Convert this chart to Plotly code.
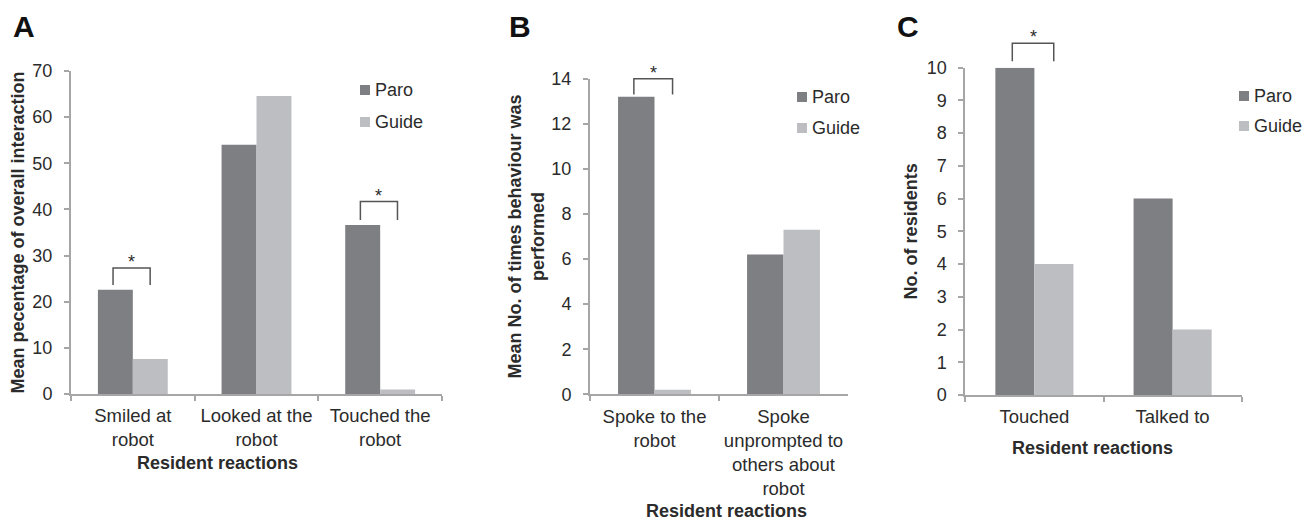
import plotly.graph_objects as go

# ---------------- data ----------------
series_names = ["Paro", "Guide"]

a_categories = ["Smiled at<br>robot", "Looked at the<br>robot", "Touched the<br>robot"]
a_paro = [22.6, 54.0, 36.6]
a_guide = [7.6, 64.6, 1.0]
a_yticks = [0, 10, 20, 30, 40, 50, 60, 70]

b_categories = ["Spoke to the<br>robot", "Spoke<br>unprompted to<br>others about<br>robot"]
b_paro = [13.2, 6.2]
b_guide = [0.2, 7.3]
b_yticks = [0, 2, 4, 6, 8, 10, 12, 14]

c_categories = ["Touched", "Talked to"]
c_paro = [10, 6]
c_guide = [4, 2]
c_yticks = [0, 1, 2, 3, 4, 5, 6, 7, 8, 9, 10]

# significance brackets: (category index, leg bottom value, bracket top value)
a_sig = [(0, 23.6, 27.3), (2, 37.7, 41.7)]
b_sig = [(0, 13.3, 14.0)]
c_sig = [(0, 10.2, 10.75)]

# ---------------- style ----------------
W, H = 1305, 521
PARO_C = "#7e7f83"
GUIDE_C = "#bdbec2"
AXIS_C = "#a6a6a6"
TEXT_C = "#2b2b2b"
FONT = "Arial, 'Liberation Sans', Helvetica, sans-serif"


def px_x(p):
    return p / W


def px_y(p):
    return 1 - p / H


fig = go.Figure()

panels = [
    dict(cats=a_categories, paro=a_paro, guide=a_guide, ticks=a_yticks, rng=[0, 70],
         xdom=[71, 442], ydom=[394, 71], n="",
         ytitle="Mean pecentage of overall interaction", standoff=3, sig=a_sig),
    dict(cats=b_categories, paro=b_paro, guide=b_guide, ticks=b_yticks, rng=[0, 14],
         xdom=[590, 848], ydom=[394.3, 78.7], n="2",
         ytitle="Mean No. of times behaviour was<br>performed", standoff=2, sig=b_sig),
    dict(cats=c_categories, paro=c_paro, guide=c_guide, ticks=c_yticks, rng=[0, 10],
         xdom=[965.3, 1241.7], ydom=[395, 67.7], n="3",
         ytitle="No. of residents", standoff=4, sig=c_sig),
]

layout_axes = {}
annotations = []
shapes = []

for p in panels:
    xa = "x" + p["n"]
    ya = "y" + p["n"]
    ydom = [px_y(p["ydom"][0]), px_y(p["ydom"][1])]
    fig.add_trace(go.Bar(x=p["cats"], y=p["paro"], name=series_names[0],
                         marker=dict(color=PARO_C, line=dict(width=0)),
                         xaxis=xa, yaxis=ya, showlegend=False))
    fig.add_trace(go.Bar(x=p["cats"], y=p["guide"], name=series_names[1],
                         marker=dict(color=GUIDE_C, line=dict(width=0)),
                         xaxis=xa, yaxis=ya, showlegend=False))
    layout_axes["xaxis" + p["n"]] = dict(
        domain=[px_x(p["xdom"][0]), px_x(p["xdom"][1])],
        anchor=ya, type="category", automargin=False, tickangle=0,
        showline=True, linecolor=AXIS_C, linewidth=2,
        ticks="outside", tickson="boundaries", ticklen=5, tickcolor=AXIS_C, tickwidth=2,
        tickfont=dict(family=FONT, size=18.5, color=TEXT_C),
        showgrid=False, zeroline=False, ticklabelstandoff=4,
    )
    layout_axes["yaxis" + p["n"]] = dict(
        domain=ydom,
        anchor=xa, range=p["rng"], tickvals=p["ticks"], automargin=False,
        showline=True, linecolor=AXIS_C, linewidth=2,
        ticks="outside", ticklen=5, tickcolor=AXIS_C, tickwidth=2,
        tickfont=dict(family=FONT, size=18, color=TEXT_C),
        showgrid=False, zeroline=False, ticklabelstandoff=8,
        title=dict(text="<b>" + p["ytitle"] + "</b>", standoff=p["standoff"],
                   font=dict(family=FONT, size=18, color=TEXT_C)),
    )

    # value -> paper y through this panel's axis range and domain
    def vy(v, rng=p["rng"], dom=ydom):
        return dom[0] + (v - rng[0]) / (rng[1] - rng[0]) * (dom[1] - dom[0])

    # significance brackets (x in category units, y mapped so they may sit above the axis top)
    for (ci, leg, top) in p["sig"]:
        x0 = ci - 0.16
        x1 = ci + 0.14
        shapes.append(dict(type="path", xref=xa, yref="paper",
                           path=f"M {x0},{vy(leg)} L {x0},{vy(top)} L {x1},{vy(top)} L {x1},{vy(leg)}",
                           line=dict(color="#555555", width=1.5)))
        annotations.append(dict(x=(x0 + x1) / 2, y=vy(top), xref=xa, yref="paper",
                                text="*", showarrow=False, yanchor="bottom", yshift=-6,
                                font=dict(family=FONT, size=18, color=TEXT_C)))

# panel letters
for letter, cx, cy in [("A", 24, 26), ("B", 520, 27), ("C", 908, 27)]:
    annotations.append(dict(x=px_x(cx), y=px_y(cy), xref="paper", yref="paper",
                            text="<b>" + letter + "</b>", showarrow=False,
                            xanchor="center", yanchor="middle",
                            font=dict(family=FONT, size=30, color="#111111")))

# x-axis titles
for cx, cy in [(217, 463), (726, 511), (1092, 448)]:
    annotations.append(dict(x=px_x(cx), y=px_y(cy), xref="paper", yref="paper",
                            text="<b>Resident reactions</b>", showarrow=False,
                            xanchor="center", yanchor="middle",
                            font=dict(family=FONT, size=18, color=TEXT_C)))

# legends (one per panel): square swatch + label
legend_pos = [
    (360, 90, 122),   # swatch left x, Paro center y, Guide center y
    (797, 97, 128),
    (1239, 96, 126),
]
for sx, y_paro, y_guide in legend_pos:
    for name, col, cy in [(series_names[0], PARO_C, y_paro), (series_names[1], GUIDE_C, y_guide)]:
        shapes.append(dict(type="rect", xref="paper", yref="paper",
                           x0=px_x(sx), x1=px_x(sx + 10), y0=px_y(cy + 5), y1=px_y(cy - 5),
                           fillcolor=col, line=dict(width=0)))
        annotations.append(dict(x=px_x(sx + 13), y=px_y(cy), xref="paper", yref="paper",
                                text=name, showarrow=False, xanchor="left", yanchor="middle",
                                font=dict(family=FONT, size=18, color=TEXT_C)))

fig.update_layout(
    template="none",
    width=W, height=H, autosize=False,
    margin=dict(l=0, r=0, t=0, b=0, pad=0, autoexpand=False),
    paper_bgcolor="white", plot_bgcolor="white",
    barmode="group", bargap=0.435, bargroupgap=0,
    shapes=shapes, annotations=annotations,
    font=dict(family=FONT, size=18, color=TEXT_C),
    **layout_axes,
)

fig.write_html("out.html", config={"displayModeBar": False},
               post_script="document.body.style.margin='0';document.body.style.overflow='hidden';")
